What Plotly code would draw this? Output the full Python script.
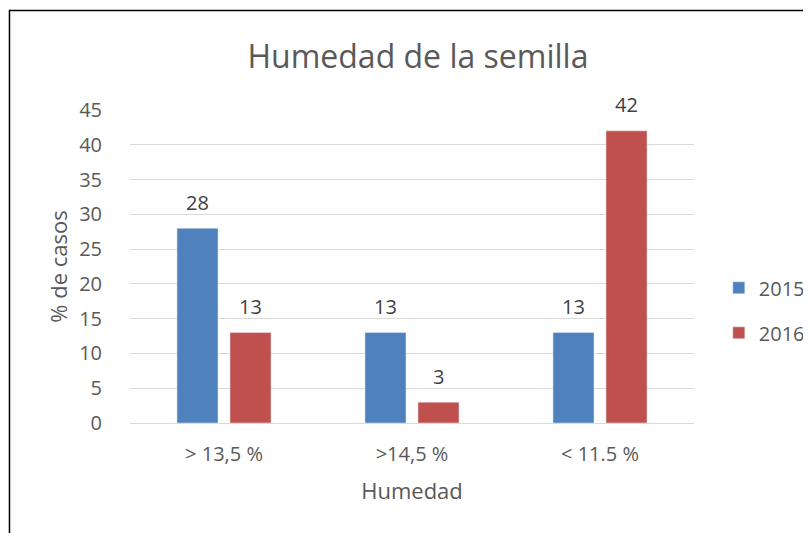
import plotly.graph_objects as go

categorias = ["> 13,5 %", ">14,5 %", "< 11.5 %"]
valores_2015 = [28, 13, 13]
valores_2016 = [13, 3, 42]

fuente = "Open Sans, Carlito, Calibri, sans-serif"
gris = "#595959"

fig = go.Figure()

fig.add_trace(go.Bar(
    x=categorias, y=valores_2015, name="2015", legendgroup="a",
    marker=dict(color="#4f81bd"),
))
fig.add_trace(go.Bar(
    x=categorias, y=valores_2016, name="2016", legendgroup="b",
    marker=dict(color="#c0504d"),
))

# etiquetas de datos encima de cada barra
for serie, desplaz in ((valores_2015, -26.5), (valores_2016, 26.5)):
    for cat, val in zip(categorias, serie):
        fig.add_annotation(
            x=cat, y=val, text=str(val), showarrow=False,
            xshift=desplaz, yshift=26, yanchor="middle",
            font=dict(size=20, color="#404040"),
        )

fig.update_layout(
    width=811, height=533,
    paper_bgcolor="white", plot_bgcolor="white",
    font=dict(family=fuente, color=gris),
    title=dict(text="Humedad de la semilla", x=0.5055, xanchor="center",
               y=0.908, yanchor="middle",
               font=dict(size=32, color=gris)),
    barmode="group", bargap=0.436, bargroupgap=0.226,
    margin=dict(l=122, r=125, t=102, b=118, autoexpand=False),
    showlegend=True,
    legend=dict(x=1.044, y=0.36, xanchor="left", yanchor="middle",
                font=dict(size=20, color=gris),
                itemwidth=30, tracegroupgap=16),
)

fig.update_xaxes(
    showline=False, showgrid=False, ticks="",
    tickfont=dict(size=20, color=gris), ticklabelstandoff=17,
    title=dict(text="Humedad", font=dict(size=22, color=gris), standoff=17),
)
fig.update_yaxes(
    range=[0, 45], dtick=5, showgrid=True, gridcolor="#d9d9d9", gridwidth=1,
    zeroline=True, zerolinecolor="#d9d9d9", zerolinewidth=1,
    showline=False, ticks="",
    tickfont=dict(size=20, color=gris), ticklabelstandoff=27,
    title=dict(text="% de casos", font=dict(size=22, color=gris), standoff=5),
)

# marco del gráfico (solo se ven los bordes izquierdo y superior)
fig.add_shape(type="rect", xref="paper", yref="paper",
              x0=-0.2137, x1=1.4, y0=-0.5, y1=1.318,
              line=dict(color="black", width=1.5))

fig.write_html("out.html")
